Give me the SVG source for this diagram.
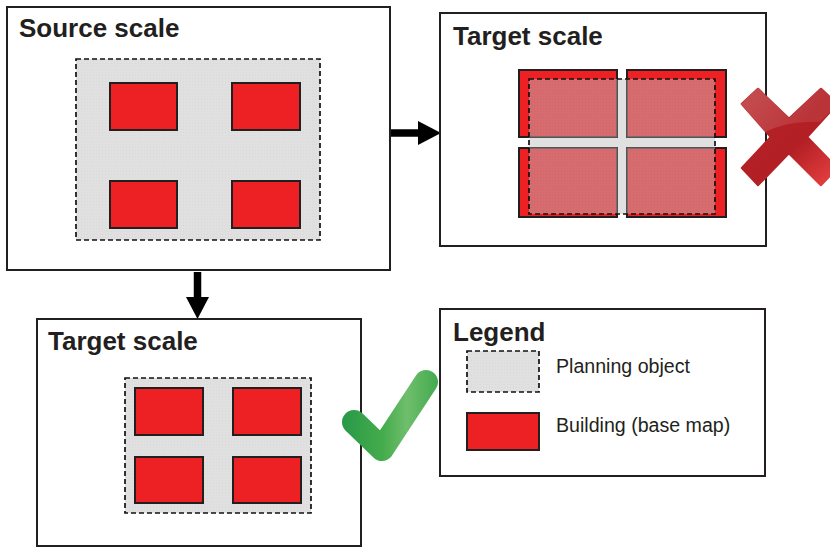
<svg xmlns="http://www.w3.org/2000/svg" width="830" height="547" viewBox="0 0 830 547">
<style>
.box{fill:#fff;stroke:#231f20;stroke-width:2}
.title{font-family:"Liberation Sans",Arial,sans-serif;font-weight:700;font-size:26px;fill:#231f20}
.label{font-family:"Liberation Sans",Arial,sans-serif;font-size:19.6px;fill:#231f20}
.obj{fill:url(#dots);stroke:#111;stroke-width:1.7;stroke-dasharray:5 3}
.outline{fill:none;stroke:#111;stroke-width:1.7;stroke-dasharray:5 3}
.bld{fill:#ed2024;stroke:#231f20;stroke-width:2}
.over{fill:url(#pink)}
.edge{fill:none;stroke:#666;stroke-width:1.5}
.conn{stroke:#000;stroke-width:7.500;fill:none}
</style>
<defs>
<pattern id="dots" width="3" height="3" patternUnits="userSpaceOnUse">
<rect width="3" height="3" fill="#e0e0e0"/><rect width="1" height="1" fill="#d9d9d9"/>
</pattern>
<pattern id="pink" width="3" height="3" patternUnits="userSpaceOnUse">
<rect width="3" height="3" fill="#d56c6f"/><rect width="1" height="1" fill="#db6066"/>
</pattern>
<linearGradient id="xg" gradientUnits="userSpaceOnUse" x1="760" y1="110" x2="828" y2="186">
<stop offset="0" stop-color="#b52226"/><stop offset=".5" stop-color="#b21f24"/><stop offset="1" stop-color="#e54040"/>
</linearGradient>
<linearGradient id="hl" gradientUnits="userSpaceOnUse" x1="745" y1="90" x2="800" y2="130">
<stop offset="0" stop-color="#fff" stop-opacity=".2"/><stop offset="1" stop-color="#fff" stop-opacity=".09"/>
</linearGradient>
<linearGradient id="vg" gradientUnits="userSpaceOnUse" x1="345" y1="420" x2="440" y2="420">
<stop offset="0" stop-color="#2a9a48"/><stop offset=".4" stop-color="#45ac4c"/><stop offset=".65" stop-color="#6fbe6b"/><stop offset="1" stop-color="#3fa94d"/>
</linearGradient>
</defs>
<g id="connectors">
<path class="conn" d="M391,133H420"/>
<path d="M418,121L441,133L418,145Z" fill="#000"/>
<path class="conn" d="M197.500,272V299"/>
<path d="M186,297H209L197.500,319Z" fill="#000"/>
</g>
<g id="source-scale">
<rect class="box" x="7" y="7" width="383" height="263"/>
<text class="title" x="19" y="37">Source scale</text>
<rect class="obj" x="76" y="59" width="244" height="181"/>
<rect class="bld" x="110" y="83" width="67" height="47"/>
<rect class="bld" x="232" y="83" width="68" height="47"/>
<rect class="bld" x="110" y="181" width="67" height="47"/>
<rect class="bld" x="232" y="181" width="68" height="47"/>
</g>
<g id="target-scale-wrong">
<rect class="box" x="440" y="13" width="326" height="233"/>
<text class="title" x="453" y="45">Target scale</text>
<rect x="529" y="79" width="186" height="135" fill="#e0e0e0"/>
<rect class="bld" x="519" y="70" width="98" height="67"/>
<rect class="bld" x="627" y="70" width="99" height="67"/>
<rect class="bld" x="519" y="148" width="98" height="69"/>
<rect class="bld" x="627" y="148" width="99" height="69"/>
<rect class="over" x="529" y="79" width="88" height="58"/>
<rect class="over" x="627" y="79" width="88" height="58"/>
<rect class="over" x="529" y="148" width="88" height="66"/>
<rect class="over" x="627" y="148" width="88" height="66"/>
<path class="edge" d="M617,79V137H529M627,79V137H715M529,148H617V214M715,148H627V214"/>
<rect class="outline" x="529" y="79" width="186" height="135"/>
</g>
<g id="wrong-mark">
<path d="M758,89L789,119L821,89L837,104L807,137L837,168L821,185L789,153L758,185L742,168L771,137L742,104Z" fill="url(#xg)" stroke="url(#xg)" stroke-width="2.500" stroke-linejoin="round"/>
<path d="M758,87.700L789,118L821,87.700L838,104L820,122Q790,120 765,132L741,104Z" fill="url(#hl)"/>
</g>
<g id="target-scale-right">
<rect class="box" x="37" y="319" width="324" height="227"/>
<text class="title" x="48" y="350">Target scale</text>
<rect class="obj" x="125" y="378" width="186" height="135"/>
<rect class="bld" x="135" y="388" width="68" height="47"/>
<rect class="bld" x="233" y="388" width="68" height="47"/>
<rect class="bld" x="135" y="457" width="68" height="46"/>
<rect class="bld" x="233" y="457" width="68" height="46"/>
</g>
<g id="right-mark">
<path d="M354,422L382,449L426,382" fill="none" stroke="url(#vg)" stroke-width="24" stroke-linecap="round" stroke-linejoin="round"/>
</g>
<g id="legend">
<rect class="box" x="440" y="309" width="325" height="167"/>
<text class="title" x="453" y="341">Legend</text>
<rect class="obj" x="467" y="351" width="72" height="41"/>
<text class="label" x="556" y="373">Planning object</text>
<rect class="bld" x="467" y="413" width="72" height="37"/>
<text class="label" x="556" y="432">Building (base map)</text>
</g>
</svg>
